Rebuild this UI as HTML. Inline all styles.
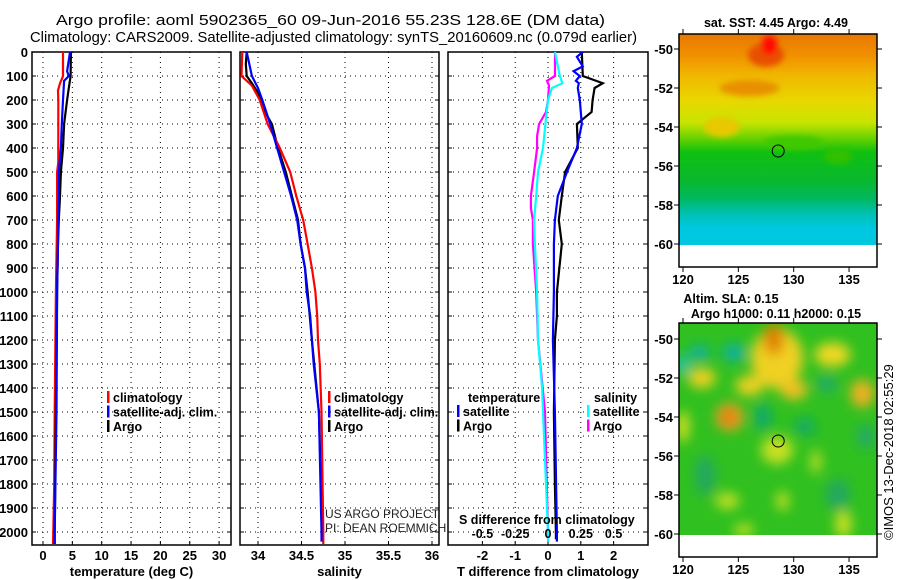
<!DOCTYPE html>
<html><head><meta charset="utf-8"><style>
html,body{margin:0;padding:0;background:#fff;}
svg{display:block;font-family:"Liberation Sans",Arial,sans-serif;}
</style></head><body>
<svg id="chart" width="900" height="580" viewBox="0 0 900 580" xmlns="http://www.w3.org/2000/svg">
<defs>
<linearGradient id="sstGrad" x1="0" y1="0" x2="0" y2="1">
<stop offset="0" stop-color="#e87800"/><stop offset="0.1" stop-color="#f09000"/>
<stop offset="0.2" stop-color="#f0b800"/><stop offset="0.32" stop-color="#e8d800"/>
<stop offset="0.42" stop-color="#c8e400"/><stop offset="0.5" stop-color="#60d000"/>
<stop offset="0.56" stop-color="#10c010"/><stop offset="0.7" stop-color="#08b830"/>
<stop offset="0.78" stop-color="#00b860"/><stop offset="0.85" stop-color="#00c0b0"/>
<stop offset="0.92" stop-color="#00c8e0"/><stop offset="1" stop-color="#00c8e0"/>
</linearGradient>
<filter id="blur6"><feGaussianBlur stdDeviation="6"/></filter>
<filter id="blur3"><feGaussianBlur stdDeviation="3"/></filter>
<clipPath id="clipSst"><rect x="679" y="34" width="198" height="211"/></clipPath>
<clipPath id="clipSla"><rect x="679" y="323" width="198" height="212"/></clipPath>
</defs>
<g id="titles">
<text x="56" y="25" font-size="15" textLength="549" lengthAdjust="spacingAndGlyphs">Argo profile: aoml 5902365_60 09-Jun-2016 55.23S 128.6E (DM data)</text>
<text x="30" y="42" font-size="15" textLength="607" lengthAdjust="spacingAndGlyphs">Climatology: CARS2009. Satellite-adjusted climatology: synTS_20160609.nc (0.079d earlier)</text>
</g>
<g id="plots"></g>
<g id="maps"></g>
<text transform="translate(893,540) rotate(-90)" font-size="13">©IMOS 13-Dec-2018 02:55:29</text>
</svg>
<script>
// ---- data ----
const tempClimDepth = [0,100,110,130,160,200,460,500,700,1000,1500,1800,2000,2050];
const tempClimValue = [3.4,3.4,3.25,2.9,2.55,2.6,2.6,2.4,2.4,2.2,2.0,1.9,1.75,1.7];
const tempSatDepth = [0,50,80,100,120,200,300,400,500,600,700,800,1000,1500,2000,2050];
const tempSatValue = [4.6,4.3,4.1,4.4,3.6,3.4,3.2,3.05,2.7,2.7,2.55,2.55,2.4,2.3,2.0,2.0];
const tempArgoDepth = [0,100,150,200,300,400,500,600,700,800,1000,1500,2000,2050];
const tempArgoValue = [4.75,4.7,4.4,4.1,3.6,3.4,3.05,2.9,2.7,2.55,2.4,2.2,2.0,2.0];

const salClimDepth = [0,100,140,200,300,400,500,600,700,800,900,1000,1100,1200,1300,1500,2000,2050];
const salClimValue = [33.82,33.81,33.93,34.02,34.11,34.25,34.37,34.44,34.52,34.57,34.62,34.66,34.68,34.69,34.71,34.73,34.75,34.75];
const salSatDepth = [0,100,150,200,300,400,500,600,700,800,900,1000,1100,1200,1300,1500,2000,2040];
const salSatValue = [33.87,33.93,34.0,34.05,34.14,34.22,34.3,34.38,34.45,34.49,34.54,34.56,34.6,34.62,34.64,34.7,34.73,34.73];
const salArgoDepth = [0,50,100,130,170,220,250,300,400,500,600,700,800,900,1000,1200,1500,2000,2030];
const salArgoValue = [33.87,33.86,33.87,33.93,34.0,34.06,34.08,34.16,34.23,34.32,34.39,34.46,34.49,34.54,34.57,34.62,34.7,34.74,34.74];

const dTSatDepth = [0,20,40,60,80,100,120,130,150,200,300,400,500,600,700,800,1000,1200,1500,2000,2040];
const dTSatValue = [1.06,0.88,0.97,1.06,0.78,0.97,0.85,0.94,0.91,0.97,1.03,0.88,0.58,0.3,0.21,0.18,0.18,0.15,0.21,0.27,0.27];
const dTArgoDepth = [0,100,130,150,200,250,300,400,500,600,700,800,1000,1100,1200,1500,1800,2000,2030];
const dTArgoValue = [1.03,1.06,1.67,1.42,1.36,1.33,0.88,0.91,0.52,0.42,0.33,0.42,0.27,0.27,0.21,0.18,0.21,0.24,0.24];
const dSSatDepth = [0,100,130,150,200,300,400,500,600,700,800,1000,1200,1400,1500,1800,2000,2040];
const dSSatValue = [0.053,0.09,0.11,0.03,0.0,-0.02,-0.038,-0.076,-0.09,-0.106,-0.1,-0.083,-0.076,-0.045,-0.038,-0.015,0.0,0.0];
const dSArgoDepth = [0,100,120,140,200,250,300,350,400,500,600,650,700,800,1000,1200,1500,2000,2030];
const dSArgoValue = [0.053,0.053,-0.008,0.008,0.0,-0.015,-0.068,-0.083,-0.083,-0.106,-0.13,-0.13,-0.115,-0.115,-0.09,-0.076,-0.023,0.0,0.0];

const depthTicks = [0,100,200,300,400,500,600,700,800,900,1000,1100,1200,1300,1400,1500,1600,1700,1800,1900,2000];
const tempTicks = [0,5,10,15,20,25,30];
const salTicks = [34,34.5,35,35.5,36];
const salTickLabels = ["34","34.5","35","35.5","36"];
const dTTicks = [-2,-1,0,1,2];
const dSTicks = [-0.5,-0.25,0,0.25,0.5];
const dSTickLabels = ["-0.5","-0.25","0","0.25","0.5"];
const latTicks = [-50,-52,-54,-56,-58,-60];
const lonTicks = [120,125,130,135];
const floatLon = 128.6, floatLat = -55.23;

// ---- scales ----
const NS = "http://www.w3.org/2000/svg";
const yTop = 52, yBot = 545;
const yD = d => yTop + d*0.24;
const xT = t => 43 + t*5.87;
const xS = s => 258 + (s-34)*87;
const xDT = t => 548 + t*32.8;
const xDS = s => 548 + s*131.2;
const mapX = lon => 683 + (lon-120)*11.07;
const sstY = lat => 49 + (-50-lat)*19.5;
const slaY = lat => 339 + (-50-lat)*19.5;

function mk(tag, attrs, parent){const e=document.createElementNS(NS,tag);for(const k in attrs)e.setAttribute(k,attrs[k]);parent.appendChild(e);return e;}
function txt(s,attrs,parent){const e=mk('text',attrs,parent);e.textContent=s;return e;}

const plots = document.getElementById('plots');

function panel(name, x0, x1, xticks, xscale, labels, title){
  const g = mk('g',{},plots);
  
  
  depthTicks.forEach(d=>{
    const l=mk('line',{x1:x0,x2:x1,y1:yD(d),y2:yD(d),stroke:'#000','stroke-width':1,'stroke-dasharray':'1,4'},g);
    
    
    mk('line',{x1:x0,x2:x0+4,y1:yD(d),y2:yD(d),stroke:'#000'},g);
    mk('line',{x1:x1-4,x2:x1,y1:yD(d),y2:yD(d),stroke:'#000'},g);
  });
  xticks.forEach((v,i)=>{
    const x=xscale(v);
    const l=mk('line',{x1:x,x2:x,y1:yTop,y2:yBot,stroke:'#000','stroke-width':1,'stroke-dasharray':'1,4'},g);
    
    
    mk('line',{x1:x,x2:x,y1:yBot-4,y2:yBot,stroke:'#000'},g);
    const t=txt(labels[i],{x:x,y:560,'font-size':13,'font-weight':'bold','text-anchor':'middle'},g);
    
    
  });
  const r=mk('rect',{x:x0,y:yTop,width:x1-x0,height:yBot-yTop,fill:'none',stroke:'#000','stroke-width':1.5},g);
  
  
  const t=txt(title,{x:(x0+x1)/2,y:576,'font-size':13,'font-weight':'bold','text-anchor':'middle'},g);
  
  
  return g;
}
function series(g, name, depths, vals, xscale, color){
  const pts = depths.map((d,i)=>xscale(vals[i]).toFixed(1)+','+yD(d).toFixed(1)).join(' ');
  const p = mk('polyline',{points:pts,fill:'none',stroke:color,'stroke-width':2.2,'stroke-linejoin':'miter'},g);
  
  
}
function legend(g, x, y, items){
  items.forEach((it,i)=>{
    const yy=y+i*14.5;
    const b=mk('rect',{x:x,y:yy-7,width:2.5,height:12,fill:it[1]},g);
    
    
    const t=txt(it[0],{x:x+6,y:yy+4,'font-size':12.5,'font-weight':'bold'},g);
    
    
  });
}

// Panel 1 temperature
const p1 = panel('temperature-panel',32,231,tempTicks,xT,tempTicks.map(String),'temperature (deg C)');
depthTicks.forEach(d=>{
  const t=txt(String(d),{x:28,y:yD(d)+5,'font-size':13,'font-weight':'bold','text-anchor':'end'},p1);
  
  
});
series(p1,'temp-climatology-line',tempClimDepth,tempClimValue,xT,'#ff0000');
series(p1,'temp-argo-line',tempArgoDepth,tempArgoValue,xT,'#000000');
series(p1,'temp-satellite-line',tempSatDepth,tempSatValue,xT,'#0000ff');
legend(p1,107,398,[['climatology','#ff0000'],['satellite-adj. clim.','#0000ff'],['Argo','#000000']]);

// Panel 2 salinity
const p2 = panel('salinity-panel',240,439,salTicks,xS,salTickLabels,'salinity');
series(p2,'sal-argo-line',salArgoDepth,salArgoValue,xS,'#000000');
series(p2,'sal-climatology-line',salClimDepth,salClimValue,xS,'#ff0000');
series(p2,'sal-satellite-line',salSatDepth,salSatValue,xS,'#0000ff');
legend(p2,328,398,[['climatology','#ff0000'],['satellite-adj. clim.','#0000ff'],['Argo','#000000']]);
const c1=txt('US ARGO PROJECT',{x:325,y:518,'font-size':12,fill:'#222'},p2);


const c2=txt('PI: DEAN ROEMMICH',{x:325,y:532,'font-size':12,fill:'#222'},p2);



// Panel 3 differences
const p3 = panel('difference-panel',448,648,dTTicks,xDT,dTTicks.map(String),'T difference from climatology');
series(p3,'dT-argo-line',dTArgoDepth,dTArgoValue,xDT,'#000000');
series(p3,'dT-satellite-line',dTSatDepth,dTSatValue,xDT,'#0000ff');
series(p3,'dS-argo-line',dSArgoDepth,dSArgoValue,xDS,'#ff00ff');
series(p3,'dS-satellite-line',dSSatDepth,dSSatValue,xDS,'#00ffff');
legend(p3,457,412,[['satellite','#0000ff'],['Argo','#000000']]);
legend(p3,587,412,[['satellite','#00ffff'],['Argo','#ff00ff']]);
const lt=txt('temperature',{x:468,y:402,'font-size':12.5,'font-weight':'bold'},p3);


const ls=txt('salinity',{x:594,y:402,'font-size':12.5,'font-weight':'bold'},p3);


const st=txt('S difference from climatology',{x:459,y:524,'font-size':12.5,'font-weight':'bold'},p3);


dSTicks.forEach((v,i)=>{
  const t=txt(dSTickLabels[i],{x:xDS(v),y:538,'font-size':12.5,'font-weight':'bold','text-anchor':'middle'},p3);
  
  
});

// ---- maps ----
const maps = document.getElementById('maps');
function mapFrame(name, yTopF, yBotF, yScale, titleLines){
  const g=mk('g',{},maps);
  
  
  latTicks.forEach(l=>{
    const y=yScale(l);
    mk('line',{x1:674,x2:679,y1:y,y2:y,stroke:'#000'},g);
    mk('line',{x1:877,x2:882,y1:y,y2:y,stroke:'#000'},g);
    const t=txt(String(l),{x:673,y:y+5,'font-size':13,'font-weight':'bold','text-anchor':'end'},g);
    
    
  });
  lonTicks.forEach(l=>{
    const x=mapX(l);
    mk('line',{x1:x,x2:x,y1:yTopF-5,y2:yTopF,stroke:'#000'},g);
    mk('line',{x1:x,x2:x,y1:yBotF,y2:yBotF+5,stroke:'#000'},g);
    const t=txt(String(l),{x:x,y:yBotF+17,'font-size':13,'font-weight':'bold','text-anchor':'middle'},g);
    
    
  });
  titleLines.forEach((s,i)=>{
    const t=txt(s,{x:s[1],y:s[2],'font-size':12.5,'font-weight':'bold','text-anchor':'middle'},g);
    t.textContent=s[0];
    
    
  });
  return g;
}
// SST map
const sst=mapFrame('sst-map',34,267,sstY,[['sat. SST: 4.45 Argo: 4.49',776,27]]);
const sg=mk('g',{'clip-path':'url(#clipSst)'},sst);
mk('rect',{x:679,y:34,width:198,height:211,fill:'url(#sstGrad)'},sg);
const sb=mk('g',{filter:'url(#blur3)'},sg);
mk('ellipse',{cx:mapX(127.5),cy:sstY(-50.3),rx:18,ry:12,fill:'#e85000'},sb);
mk('ellipse',{cx:mapX(126),cy:sstY(-52),rx:30,ry:8,fill:'#e89000'},sb);
mk('ellipse',{cx:mapX(123.5),cy:sstY(-54),rx:18,ry:10,fill:'#e8c800'},sb);
mk('ellipse',{cx:mapX(130),cy:sstY(-54.8),rx:30,ry:7,fill:'#40c800'},sb);
mk('ellipse',{cx:mapX(134),cy:sstY(-55.5),rx:14,ry:8,fill:'#30c000'},sb);
mk('ellipse',{cx:mapX(127.8),cy:sstY(-49.8),rx:8,ry:10,fill:'#ff1000'},sb);
mk('rect',{x:679,y:34,width:198,height:233,fill:'none',stroke:'#000','stroke-width':1.5},sst);
const m1=mk('circle',{cx:mapX(floatLon),cy:sstY(floatLat),r:6,fill:'none',stroke:'#000'},sst);


// SLA map
const sla=mapFrame('sla-map',323,557,slaY,[['Altim. SLA: 0.15',731,303],['Argo h1000: 0.11 h2000: 0.15',776,318]]);
const lg=mk('g',{'clip-path':'url(#clipSla)'},sla);
mk('rect',{x:679,y:323,width:198,height:212,fill:'#30c020'},lg);
const lb=mk('g',{filter:'url(#blur6)'},lg);
[[121.5,-50.7,10,8,'#10b0a0'],[124.6,-50.7,12,9,'#10b0a0'],[120,-51.3,6,10,'#20c0c0'],[127.2,-54,8,14,'#10a870'],
 [131,-54.5,10,8,'#10a870'],[122,-57,10,20,'#20a860'],[134,-58,12,16,'#20a860'],[136.5,-55,8,12,'#20a870'],[133,-52.3,10,8,'#20a870'],
 [128.5,-51,26,30,'#f0d020'],[128.2,-50,10,16,'#e08000'],[126,-52.4,14,10,'#f0d020'],[130,-52.6,14,10,'#f0c020'],
 [121.7,-52,14,10,'#f0d020'],[124.2,-54,14,14,'#f0a020'],[124.1,-54,6,8,'#e07000'],[133.5,-50.8,18,12,'#f0d820'],
 [136.2,-52.8,12,14,'#f0b020'],[120,-54.5,6,16,'#e0e020'],[128.5,-55.7,16,14,'#c8e020'],[124,-58.3,12,8,'#c8e020'],
 [129,-58.3,6,10,'#c8e020'],[134.5,-59.5,8,14,'#d0e020'],[132,-56.3,5,12,'#c8e020'],[125.5,-59.8,10,6,'#c8e020']
].forEach(b=>mk('ellipse',{cx:mapX(b[0]),cy:slaY(b[1]),rx:b[2],ry:b[3],fill:b[4]},lb));
mk('rect',{x:679,y:323,width:198,height:234,fill:'none',stroke:'#000','stroke-width':1.5},sla);
const m2=mk('circle',{cx:mapX(floatLon),cy:slaY(floatLat),r:6,fill:'none',stroke:'#000'},sla);


</script>
</body></html>
